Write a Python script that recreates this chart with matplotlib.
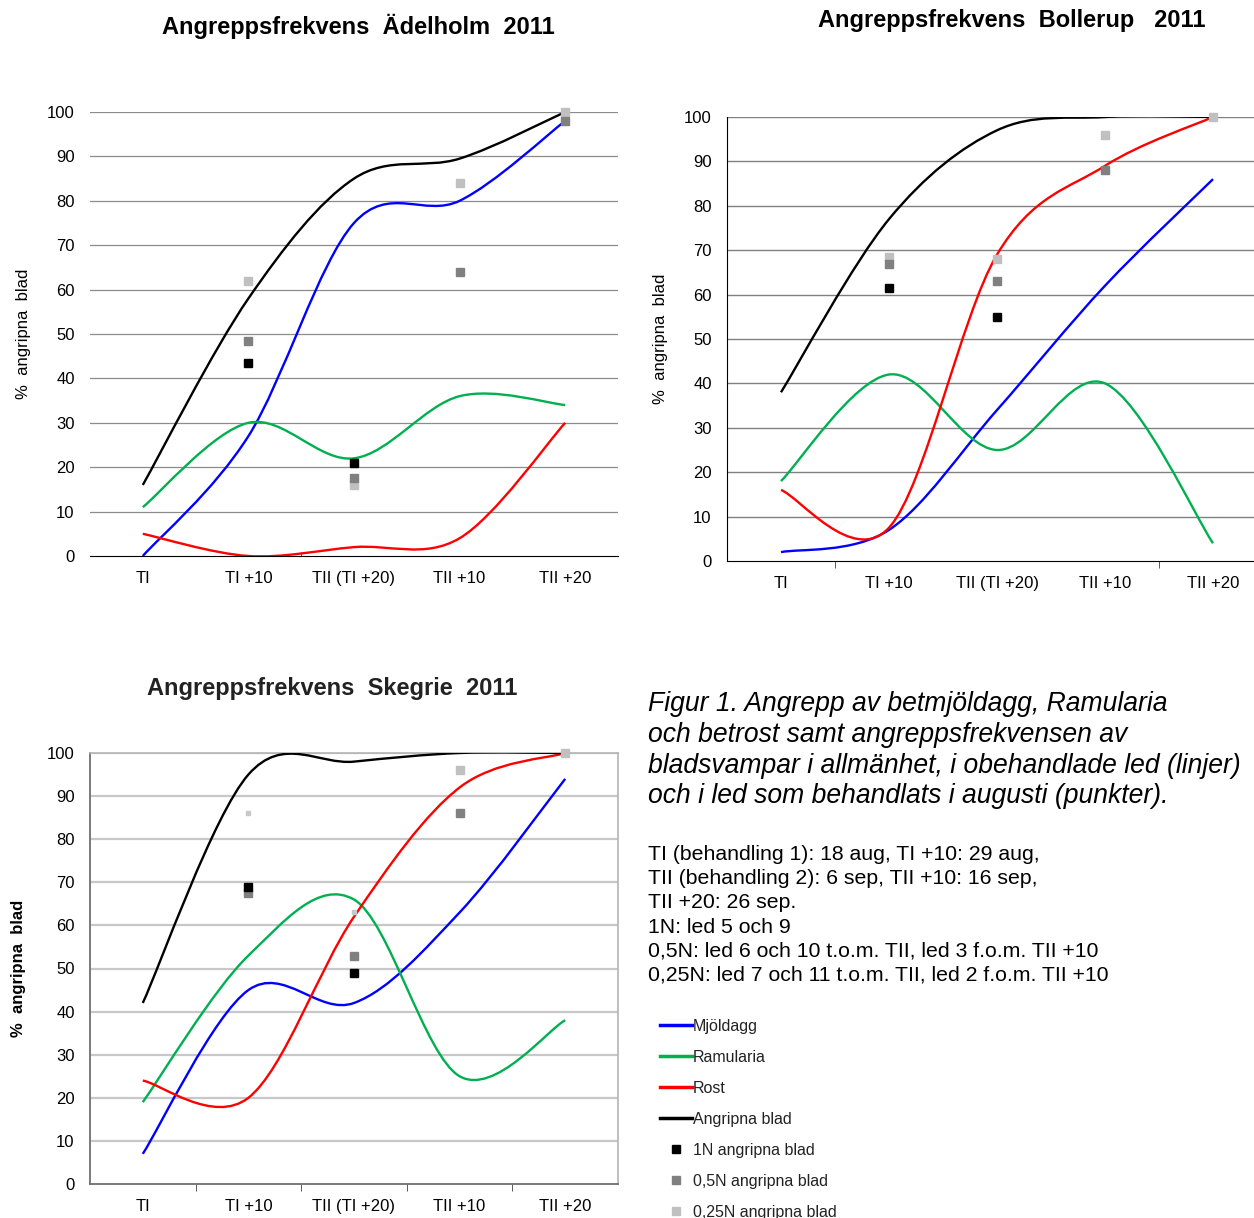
import matplotlib
matplotlib.use("Agg")
import matplotlib.pyplot as plt
import numpy as np
from matplotlib.lines import Line2D
from matplotlib.path import Path
from matplotlib.patches import PathPatch

plt.rcParams["font.family"] = ["Liberation Sans", "DejaVu Sans"]

CATEGORIES = ["TI", "TI +10", "TII (TI +20)", "TII +10", "TII +20"]

# Ädelholm
ADEL_MJOLDAGG = [0, 27, 75, 80, 98]
ADEL_RAMULARIA = [11, 30, 22, 36, 34]
ADEL_ROST = [5, 0, 2, 4, 30]
ADEL_ANGRIPNA = [16, 58, 85, 89.5, 100]
ADEL_1N = [np.nan, 43.5, 21, np.nan, np.nan]
ADEL_05N = [np.nan, 48.5, 17.5, 64, 98]
ADEL_025N = [np.nan, 62, 16, 84, 100]

# Bollerup
BOLL_MJOLDAGG = [2, 7, 34, 62, 86]
BOLL_RAMULARIA = [18, 42, 25, 40, 4]
BOLL_ROST = [16, 7.5, 69, 89, 100]
BOLL_ANGRIPNA = [38, 77, 97, 100, 100]
BOLL_1N = [np.nan, 61.5, 55, np.nan, np.nan]
BOLL_05N = [np.nan, 67, 63, 88, np.nan]
BOLL_025N = [np.nan, 68.5, 68, 96, 100]

# Skegrie
SKEG_MJOLDAGG = [7, 45, 42, 63, 94]
SKEG_RAMULARIA = [19, 53, 66, 25, 38]
SKEG_ROST = [24, 20, 62, 92, 100]
SKEG_ANGRIPNA = [42, 95, 98, 100, 100]
SKEG_1N = [np.nan, 69, 49, np.nan, np.nan]
SKEG_05N = [np.nan, 67.5, 53, 86, np.nan]
SKEG_025N = [np.nan, 86, 63, 96, 100]

BLUE = "#0000ff"
GREEN = "#00b050"
RED = "#ff0000"
BLACK = "#000000"
PT_1N = "#000000"
PT_05N = "#808080"
PT_025N = "#c0c0c0"

W, H = 1254, 1218


def smooth_path(xs, ys):
    """Excel-style smoothed line: cubic Bezier segments through every point."""
    pts = np.column_stack([xs, ys]).astype(float)
    n = len(pts)
    verts = [pts[0]]
    codes = [Path.MOVETO]
    for i in range(n - 1):
        p0 = pts[max(i - 1, 0)]
        p1 = pts[i]
        p2 = pts[i + 1]
        p3 = pts[min(i + 2, n - 1)]
        verts += [p1 + (p2 - p0) / 6, p2 - (p3 - p1) / 6, p2]
        codes += [Path.CURVE4] * 3
    return Path(verts, codes)


def draw_panel(ax, lines, points, grid_color, grid_lw, sep_ticks):
    x = np.arange(len(CATEGORIES)) + 0.5
    for vals, color in lines:
        ax.add_patch(PathPatch(smooth_path(x, vals), fill=False,
                               edgecolor=color, lw=1.7, zorder=3))
    for vals, color, size in points:
        ax.plot(x, vals, "s", color=color, markersize=size, linestyle="none",
                zorder=4, clip_on=False)

    ax.set_xlim(0, 5)
    ax.set_ylim(0, 100)
    ax.set_yticks(range(0, 101, 10))
    ax.set_xticks(x)
    ax.set_xticklabels(CATEGORIES)
    ax.set_xticks(sep_ticks, minor=True)
    for y in range(10, 101, 10):
        ax.axhline(y, color=grid_color, lw=grid_lw, zorder=1)
    ax.tick_params(axis="both", which="major", length=0, labelsize=12, pad=11)
    ax.tick_params(axis="x", which="minor", length=5, direction="out", color="#404040")


fig = plt.figure(figsize=(W / 100, H / 100), dpi=100)

# Ädelholm
ax1 = fig.add_axes([90 / W, 662 / H, 528 / W, 444 / H])
draw_panel(ax1, [(ADEL_MJOLDAGG, BLUE), (ADEL_RAMULARIA, GREEN),
                 (ADEL_ROST, RED), (ADEL_ANGRIPNA, BLACK)],
           [(ADEL_025N, PT_025N, 6), (ADEL_05N, PT_05N, 6), (ADEL_1N, PT_1N, 6)],
           "#8c8c8c", 0.9, [2])
for s in ["left", "right", "top"]:
    ax1.spines[s].set_visible(False)
ax1.spines["bottom"].set_color("black")
ax1.tick_params(axis="x", which="minor", length=3, direction="in")
ax1.set_ylabel("%  angripna  blad", fontsize=12)
ax1.yaxis.set_label_coords(-0.112, 0.5)
fig.text(358 / W, 1 - 26 / H, "Angreppsfrekvens  Ädelholm  2011",
         ha="center", va="center", fontsize=17, fontweight="bold")

# Bollerup
ax2 = fig.add_axes([727 / W, 657 / H, 540 / W, 444 / H])
draw_panel(ax2, [(BOLL_MJOLDAGG, BLUE), (BOLL_RAMULARIA, GREEN),
                 (BOLL_ROST, RED), (BOLL_ANGRIPNA, BLACK)],
           [(BOLL_025N, PT_025N, 6), (BOLL_05N, PT_05N, 6), (BOLL_1N, PT_1N, 6)],
           "#808080", 1.0, [1, 4])
for s in ["right", "top"]:
    ax2.spines[s].set_visible(False)
ax2.spines["left"].set_color("black")
ax2.spines["bottom"].set_color("black")
ax2.set_ylabel("%  angripna  blad", fontsize=12)
ax2.yaxis.set_label_coords(-0.109, 0.5)
fig.text(1012 / W, 1 - 20 / H, "Angreppsfrekvens  Bollerup   2011",
         ha="center", va="center", fontsize=17, fontweight="bold")

# Skegrie
ax3 = fig.add_axes([90 / W, 34 / H, 528 / W, 431 / H])
draw_panel(ax3, [(SKEG_MJOLDAGG, BLUE), (SKEG_RAMULARIA, GREEN),
                 (SKEG_ROST, RED), (SKEG_ANGRIPNA, BLACK)],
           [(SKEG_05N, PT_05N, 6), (SKEG_1N, PT_1N, 6)],
           "#c8c8c8", 1.6, [1, 2, 3, 4])
# lightest series: the first two readings show only as faint dots
x3 = np.arange(len(CATEGORIES)) + 0.5
ax3.plot(x3[3:], SKEG_025N[3:], "s", color=PT_025N, markersize=6,
         zorder=4, clip_on=False)
ax3.plot(x3[1:3], SKEG_025N[1:3], "s", color="#c8c8c8", markersize=3, zorder=4)
for s in ["right", "top"]:
    ax3.spines[s].set_color("#b4b4b4")
    ax3.spines[s].set_linewidth(1.2)
for s in ["left", "bottom"]:
    ax3.spines[s].set_color("#707070")
    ax3.spines[s].set_linewidth(1.3)
ax3.set_ylabel("%  angripna  blad", fontsize=12, fontweight="bold")
ax3.yaxis.set_label_coords(-0.121, 0.5)
fig.text(332 / W, 1 - 688 / H, "Angreppsfrekvens  Skegrie  2011",
         ha="center", va="center", fontsize=17, fontweight="bold", color="#222222")

# caption
fig.text(648 / W, 1 - 691 / H,
         "Figur 1. Angrepp av betmjöldagg, Ramularia\n"
         "och betrost samt angreppsfrekvensen av\n"
         "bladsvampar i allmänhet, i obehandlade led (linjer)\n"
         "och i led som behandlats i augusti (punkter).",
         ha="left", va="top", fontsize=19.1, style="italic", linespacing=1.24)
fig.text(648 / W, 1 - 845 / H,
         "TI (behandling 1): 18 aug, TI +10: 29 aug,\n"
         "TII (behandling 2): 6 sep, TII +10: 16 sep,\n"
         "TII +20: 26 sep.\n"
         "1N: led 5 och 9\n"
         "0,5N: led 6 och 10 t.o.m. TII, led 3 f.o.m. TII +10\n"
         "0,25N: led 7 och 11 t.o.m. TII, led 2 f.o.m. TII +10",
         ha="left", va="top", fontsize=15.3, linespacing=1.345)

handles = [
    Line2D([], [], color=BLUE, lw=2.5),
    Line2D([], [], color=GREEN, lw=2.5),
    Line2D([], [], color=RED, lw=2.5),
    Line2D([], [], color=BLACK, lw=2.5),
    Line2D([], [], color=PT_1N, marker="s", markersize=6, linestyle="none"),
    Line2D([], [], color=PT_05N, marker="s", markersize=6, linestyle="none"),
    Line2D([], [], color=PT_025N, marker="s", markersize=6, linestyle="none"),
]
labels = ["Mjöldagg", "Ramularia", "Rost", "Angripna blad",
          "1N angripna blad", "0,5N angripna blad", "0,25N angripna blad"]
fig.legend(handles, labels, loc="upper left",
           bbox_to_anchor=(660 / W, 1 - 1019 / H),
           frameon=False, fontsize=11.5, handlelength=2.0, handletextpad=0.05,
           labelspacing=1.0, borderaxespad=0, borderpad=0, labelcolor="#222222")

fig.savefig("out.png", dpi=100)
